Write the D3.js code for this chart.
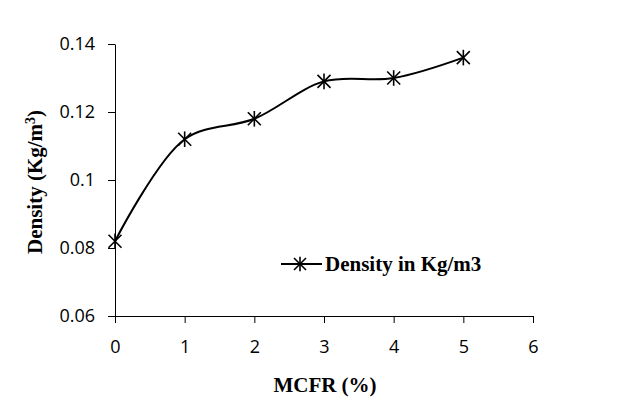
<!DOCTYPE html>
<html>
<head>
<meta charset="utf-8">
<script src="https://cdn.jsdelivr.net/npm/d3@7"></script>
<style>
  body { margin: 0; background: #fff; }
  .tick text { font-family: "Open Sans", sans-serif; font-size: 18px; fill: #000; }
  .lbl { font-family: "Liberation Serif", serif; font-weight: bold; font-size: 21px; }
</style>
</head>
<body>
<div id="chart"></div>
<script>
// data
const mcfr = [0, 1, 2, 3, 4, 5];
const density = [0.082, 0.112, 0.118, 0.129, 0.130, 0.136];
const xTicks = [0, 1, 2, 3, 4, 5, 6];
const yTicks = [0.06, 0.08, 0.1, 0.12, 0.14];
const seriesName = "Density in Kg/m3";

const width = 619, height = 417,
      margin = ({top: 44, right: 86, bottom: 101, left: 115});

const svg = d3.select("#chart").append("svg")
    .attr("width", width).attr("height", height);

const x = d3.scaleLinear().domain([0, 6]).range([margin.left, width - margin.right]);
const y = d3.scaleLinear().domain([0.06, 0.14]).range([height - margin.bottom, margin.top]);

svg.append("g")
    .attr("transform", `translate(0,${y(0.06)})`)
    .call(d3.axisBottom(x).tickValues(xTicks).tickFormat(d3.format("d")).tickSize(7).tickSizeOuter(0).tickPadding(17))
    .call(g => g.selectAll("line,path").attr("stroke", "#000"));

svg.append("g")
    .attr("transform", `translate(${x(0)},0)`)
    .call(d3.axisLeft(y).tickValues(yTicks).tickFormat(d => String(+d.toFixed(2))).tickSize(7).tickSizeOuter(0).tickPadding(13))
    .call(g => g.selectAll("line,path").attr("stroke", "#000"));

const pts = mcfr.map((m, i) => [m, density[i]]);

svg.append("path")
    .datum(pts)
    .attr("fill", "none")
    .attr("stroke", "#000")
    .attr("stroke-width", 2)
    .attr("d", d3.line().x(d => x(d[0])).y(d => y(d[1])).curve(d3.curveCatmullRom.alpha(0.5)));

// asterisk marker
function star(g, cx, cy, r) {
  const s = g.append("g").attr("transform", `translate(${cx},${cy})`)
      .attr("stroke", "#000").attr("stroke-width", 1.6);
  s.append("line").attr("x1", -r).attr("y1", -r).attr("x2", r).attr("y2", r);
  s.append("line").attr("x1", -r).attr("y1", r).attr("x2", r).attr("y2", -r);
  s.append("line").attr("x1", 0).attr("y1", -r * 1.2).attr("x2", 0).attr("y2", r * 1.2);
}
pts.forEach(d => star(svg, x(d[0]), y(d[1]), 6.5));

// legend
const lg = svg.append("g").attr("transform", "translate(281,264)");
lg.append("line").attr("x1", 0).attr("x2", 41).attr("stroke", "#000").attr("stroke-width", 2);
star(lg, 19, 0, 6);
lg.append("text").attr("class", "lbl").attr("x", 44).attr("y", 7).text(seriesName);

// axis titles
svg.append("text").attr("class", "lbl")
    .attr("text-anchor", "middle")
    .attr("x", 325).attr("y", 392)
    .text("MCFR (%)");

const yt = svg.append("text").attr("class", "lbl")
    .attr("text-anchor", "middle")
    .attr("transform", "translate(42,182) rotate(-90)");
yt.append("tspan").text("Density (Kg/m");
yt.append("tspan").attr("baseline-shift", "super").attr("font-size", 14).text("3");
yt.append("tspan").text(")");
</script>
</body>
</html>
